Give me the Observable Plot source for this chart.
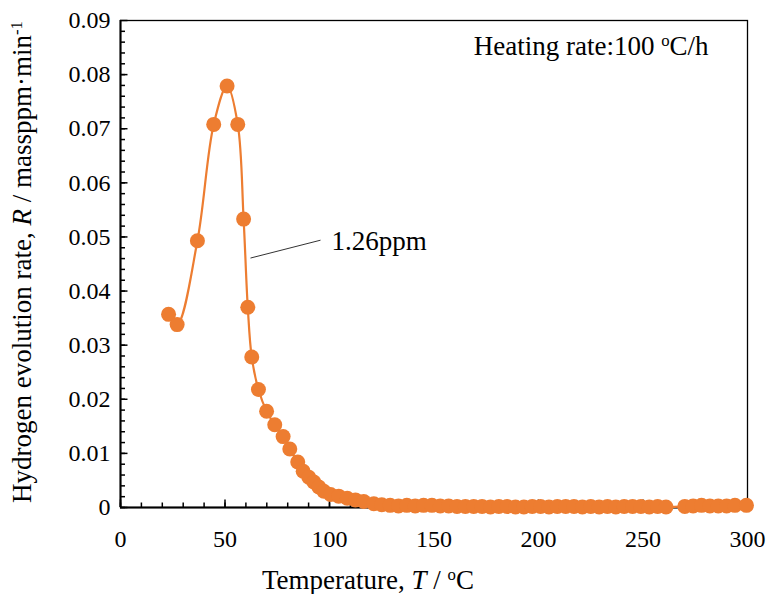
<!DOCTYPE html>
<html>
<head>
<meta charset="utf-8">
<script src="https://cdn.jsdelivr.net/npm/d3@7"></script>
<script src="https://cdn.jsdelivr.net/npm/@observablehq/plot@0.6"></script>
<style>
  html, body { margin: 0; padding: 0; background: #fff; }
  #chart svg { display: block; }
</style>
</head>
<body>
<div id="chart"></div>
<script>
// Temperature (°C) and hydrogen evolution rate (massppm/min)
const temps = [23.0, 27.1, 36.8, 44.6, 51.0, 56.1, 58.9, 60.9, 62.8, 66.0, 69.9, 73.8, 77.8, 81.0, 84.8, 87.4, 90.1, 92.5, 94.9, 97.3, 100.5, 104.4, 108.5, 112.4, 116.4, 121.2,
  125, 129, 133, 137, 141, 145, 149, 153, 157, 161, 165, 169, 173, 177, 181, 185, 189, 193, 197, 201, 205, 209, 213, 217, 221, 225, 229, 233, 237, 241, 245, 249, 253, 257, 261,
  270, 274, 278, 282, 286, 290, 294, 299.5];
const rates = [0.0357, 0.0338, 0.0493, 0.0708, 0.0779, 0.0708, 0.0533, 0.0370, 0.0278, 0.0218, 0.0178, 0.0153, 0.0131, 0.0108, 0.0084, 0.0067, 0.0056, 0.0047, 0.0038, 0.0030, 0.0024, 0.0021, 0.0017, 0.0014, 0.0011, 0.0007,
  0.0005, 0.0004, 0.0003, 0.0004, 0.0003, 0.0004, 0.0004, 0.0003, 0.0003, 0.0002, 0.0002, 0.0002, 0.0002, 0.0001, 0.0002, 0.0002, 0.0001, 0.0001, 0.0002, 0.0002, 0.0001, 0.0002, 0.0002, 0.0002, 0.0001, 0.0002, 0.0001, 0.0002, 0.0001, 0.0002, 0.0002, 0.0002, 0.0001, 0.0002, 0.0001,
  0.0002, 0.0003, 0.0004, 0.0003, 0.0003, 0.0003, 0.0004, 0.0004];

const xMajorTicks = [0, 50, 100, 150, 200, 250, 300];
const xMinorTicks = d3.range(0, 301, 10);
const yMajorTicks = [0, 0.01, 0.02, 0.03, 0.04, 0.05, 0.06, 0.07, 0.08, 0.09];
const yMinorTicks = d3.range(0, 45).map(i => i * 0.002);

const xTitle = "Temperature, T / oC";
const yTitle = "Hydrogen evolution rate, R / massppm·min-1";
const noteText = "Heating rate:100 oC/h";
const noteX = [169];
const noteY = [0.0852];
const calloutText = "1.26ppm";
const calloutX = [101];
const calloutY = [0.0492];
const leaderX1 = [62.2], leaderY1 = [0.0461], leaderX2 = [95.7], leaderY2 = [0.0494];

const data = temps.map((t, i) => ({t, r: rates[i]}));
const orange = "#ED7D31";
const W = 771, H = 594, mL = 120, mR = 24, mT = 20, mB = 87;
const innerW = W - mL - mR, innerH = H - mT - mB;
const FS = 24;   // tick labels
const TS = 27;   // titles and notes

const chart = Plot.plot({
  width: W, height: H,
  marginLeft: mL, marginRight: mR, marginTop: mT, marginBottom: mB,
  style: {fontFamily: "'Liberation Serif', 'Times New Roman', serif", color: "#000", background: "#fff"},
  x: {domain: [0, 300]},
  y: {domain: [0, 0.09]},
  marks: [
    Plot.frame({stroke: "#000", strokeWidth: 1.3}),
    Plot.tickX(xMinorTicks, {x: d => d, insetTop: innerH - 4.5, stroke: "#000", strokeWidth: 1.5}),
    Plot.tickX(xMajorTicks, {x: d => d, insetTop: innerH - 7.5, stroke: "#000", strokeWidth: 1.5}),
    Plot.tickY(yMinorTicks, {y: d => d, insetRight: innerW - 5, stroke: "#000", strokeWidth: 1.5}),
    Plot.tickY(yMajorTicks, {y: d => d, insetRight: innerW - 7.5, stroke: "#000", strokeWidth: 1.5}),
    Plot.ruleY([0], {stroke: "#000", strokeWidth: 2}),
    Plot.ruleX([0], {stroke: "#000", strokeWidth: 2}),
    Plot.axisX({ticks: xMajorTicks, tickSize: 0, tickPadding: 22, fontSize: FS, label: null, tickFormat: d => String(d)}),
    Plot.axisY({ticks: yMajorTicks, tickSize: 0, tickPadding: 10, fontSize: FS, label: null, tickFormat: d => d === 0 ? "0" : d.toFixed(2)}),
    Plot.text([xTitle], {frameAnchor: "bottom", textAnchor: "middle", lineAnchor: "middle", dx: -66, dy: 73, fontSize: TS, fill: "#000"}),
    Plot.text([yTitle], {frameAnchor: "left", textAnchor: "middle", lineAnchor: "middle", rotate: -90, dx: -98, dy: -2, fontSize: TS, fill: "#000"}),
    Plot.line(data, {x: "t", y: "r", curve: "catmull-rom", stroke: orange, strokeWidth: 2.2}),
    Plot.dot(data, {x: "t", y: "r", r: 7.5, fill: orange, stroke: "none"}),
    Plot.link([0], {x1: () => leaderX1[0], y1: () => leaderY1[0], x2: () => leaderX2[0], y2: () => leaderY2[0], stroke: "#333", strokeWidth: 1}),
    Plot.text([calloutText], {x: () => calloutX[0], y: () => calloutY[0], textAnchor: "start", fontSize: TS, fill: "#000"}),
    Plot.text([noteText], {x: () => noteX[0], y: () => noteY[0], textAnchor: "start", fontSize: TS, fill: "#000"})
  ]
});
document.getElementById("chart").append(chart);

const sup = s => `<tspan baseline-shift="super" font-size="0.62em">${s}</tspan>`;
chart.querySelectorAll("text").forEach(t => {
  const s = t.textContent;
  if (s === xTitle) t.innerHTML = `Temperature, <tspan font-style="italic">T</tspan> / ${sup("o")}C`;
  else if (s === yTitle) t.innerHTML = `Hydrogen evolution rate, <tspan font-style="italic">R</tspan> / massppm·min${sup("-1")}`;
  else if (s === noteText) t.innerHTML = `Heating rate:100 ${sup("o")}C/h`;
});
</script>
</body>
</html>
